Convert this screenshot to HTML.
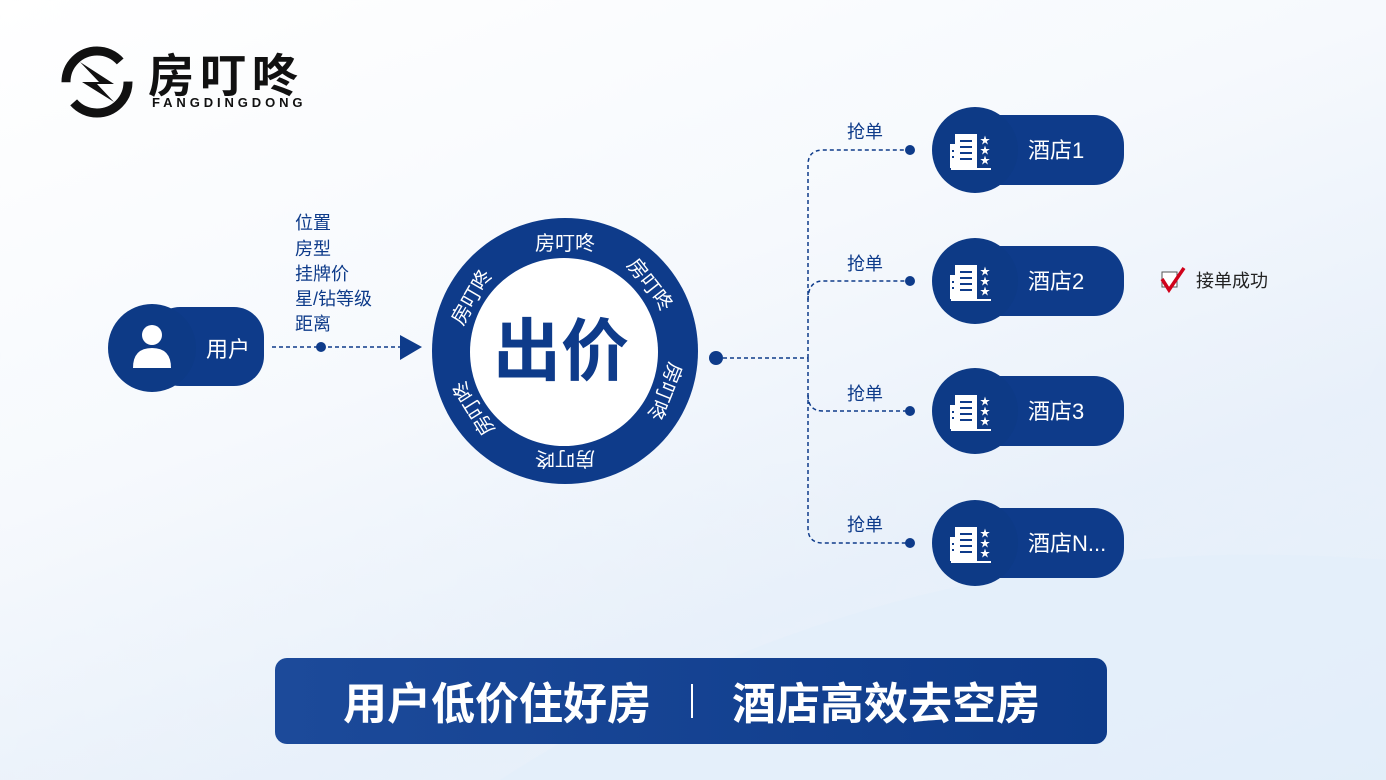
<!DOCTYPE html>
<html><head><meta charset="utf-8"><style>
html,body{margin:0;padding:0;width:1386px;height:780px;overflow:hidden}
body{background:linear-gradient(160deg,#ffffff 0%,#f6f9fd 40%,#e8f0fa 70%,#f4f8fd 100%);font-family:"Liberation Sans","Noto Sans CJK SC",sans-serif}
svg text{font-family:"Liberation Sans","Noto Sans CJK SC",sans-serif}
</style></head><body>
<svg width="1386" height="780" viewBox="0 0 1386 780" xmlns="http://www.w3.org/2000/svg">
<defs>
<linearGradient id="bg2" x1="0" y1="0" x2="1" y2="1"><stop offset="0" stop-color="#fff" stop-opacity="0"/><stop offset="1" stop-color="#d6e5f5" stop-opacity=".6"/></linearGradient>
<linearGradient id="ban" x1="0" y1="0" x2="1" y2="0"><stop offset="0" stop-color="#1c4a9a"/><stop offset="1" stop-color="#0e3b8a"/></linearGradient>
<g id="bld">
<rect x="-20" y="-16" width="22" height="34" fill="#fff"/>
<rect x="-25" y="-6" width="6" height="24" fill="#fff"/>
<rect x="-24" y="18" width="40" height="2" fill="#fff"/>
<g fill="#0e3b8a"><rect x="-15" y="-10" width="12" height="2"/><rect x="-15" y="-4" width="12" height="2"/><rect x="-15" y="2" width="12" height="2"/><rect x="-15" y="8" width="12" height="2"/><rect x="-23" y="0" width="2" height="2"/><rect x="-23" y="6" width="2" height="2"/></g>
<text x="10" y="-6" font-size="10" fill="#fff" text-anchor="middle">★</text>
<text x="10" y="4" font-size="10" fill="#fff" text-anchor="middle">★</text>
<text x="10" y="14" font-size="10" fill="#fff" text-anchor="middle">★</text>
</g>
</defs>
<path d="M0 620 Q400 430 900 470 T1386 300 L1386 780 L0 780Z" fill="url(#bg2)"/>
<path d="M500 780 Q900 520 1386 560 L1386 780Z" fill="#e3eefa" opacity=".6"/>

<!-- logo -->
<circle cx="97" cy="82" r="31" fill="none" stroke="#111" stroke-width="9" stroke-dasharray="75 22"/>
<path d="M80 62 L114 84 L97 84 L114 102 L82 82 L99 82 Z" fill="#111"/>
<text x="148" y="92" font-size="46" font-weight="bold" fill="#111" letter-spacing="6">房叮咚</text>
<text x="152" y="107" font-size="13" font-weight="bold" fill="#111" letter-spacing="3.9">FANGDINGDONG</text>

<!-- user node -->
<rect x="150" y="307" width="114" height="79" rx="30" fill="#0e3b8a"/>
<circle cx="152" cy="348" r="44" fill="#0d3a86"/>
<circle cx="152" cy="335" r="10" fill="#fff"/>
<path d="M133 368 Q133 348 152 348 Q171 348 171 368 Z" fill="#fff"/>
<text x="206" y="357" font-size="22" fill="#fff">用户</text>
<line x1="272" y1="347" x2="402" y2="347" stroke="#0e3b8a" stroke-width="1.5" stroke-dasharray="4 3"/>
<circle cx="321" cy="347" r="5" fill="#0e3b8a"/>
<path d="M400 335 L422 347 L400 360Z" fill="#0e3b8a"/>
<g font-size="18" fill="#0e3b8a"><text x="295" y="229">位置</text><text x="295" y="255">房型</text><text x="295" y="280">挂牌价</text><text x="295" y="305">星/钻等级</text><text x="295" y="330">距离</text></g>

<!-- ring -->
<circle cx="565" cy="351" r="133" fill="#0e3b8a"/>
<circle cx="564" cy="352" r="94" fill="#fff"/>
<text x="561" y="375" font-size="68" font-weight="bold" fill="#0e3b8a" text-anchor="middle">出价</text>
<g font-size="20" fill="#fff" text-anchor="middle">
<text transform="rotate(0 565 351) translate(565 250)">房叮咚</text>
<text transform="rotate(52 565 351) translate(565 250)">房叮咚</text>
<text transform="rotate(112 565 351) translate(565 250)">房叮咚</text>
<text transform="rotate(180 565 351) translate(565 250)">房叮咚</text>
<text transform="rotate(238 565 351) translate(565 250)">房叮咚</text>
<text transform="rotate(300 565 351) translate(565 250)">房叮咚</text>
</g>

<!-- connectors -->
<circle cx="716" cy="358" r="7" fill="#0e3b8a"/>
<g stroke="#0e3b8a" stroke-width="1.5" fill="none" stroke-dasharray="4 3">
<line x1="723" y1="358" x2="808" y2="358"/>
<path d="M808 358 L808 165 Q808 150 823 150 L908 150"/>
<path d="M808 300 Q808 281 823 281 L908 281"/>
<path d="M808 395 Q808 411 823 411 L908 411"/>
<path d="M808 358 L808 528 Q808 543 823 543 L908 543"/>
</g>
<g fill="#0e3b8a"><circle cx="910" cy="150" r="5"/><circle cx="910" cy="281" r="5"/><circle cx="910" cy="411" r="5"/><circle cx="910" cy="543" r="5"/></g>
<g font-size="18" fill="#0e3b8a"><text x="847" y="138">抢单</text><text x="847" y="270">抢单</text><text x="847" y="400">抢单</text><text x="847" y="531">抢单</text></g>

<!-- hotels -->
<g>
<rect x="960" y="115" width="164" height="70" rx="30" fill="#0e3b8a"/><circle cx="975" cy="150" r="43" fill="#0d3a86"/><use href="#bld" x="975" y="150"/><text x="1028" y="158" font-size="22" fill="#fff">酒店1</text>
<rect x="960" y="246" width="164" height="70" rx="30" fill="#0e3b8a"/><circle cx="975" cy="281" r="43" fill="#0d3a86"/><use href="#bld" x="975" y="281"/><text x="1028" y="289" font-size="22" fill="#fff">酒店2</text>
<rect x="960" y="376" width="164" height="70" rx="30" fill="#0e3b8a"/><circle cx="975" cy="411" r="43" fill="#0d3a86"/><use href="#bld" x="975" y="411"/><text x="1028" y="419" font-size="22" fill="#fff">酒店3</text>
<rect x="960" y="508" width="164" height="70" rx="30" fill="#0e3b8a"/><circle cx="975" cy="543" r="43" fill="#0d3a86"/><use href="#bld" x="975" y="543"/><text x="1028" y="551" font-size="22" fill="#fff">酒店N...</text>
</g>
<rect x="1162" y="272" width="15" height="15" fill="#fff" stroke="#555" stroke-width="1"/>
<path d="M1162 279 L1169 290 L1184 268" stroke="#d0021b" stroke-width="3.5" fill="none"/>
<text x="1196" y="287" font-size="18" fill="#222">接单成功</text>

<!-- banner -->
<rect x="275" y="658" width="832" height="86" rx="12" fill="url(#ban)"/>
<text x="497" y="719" font-size="44" font-weight="bold" fill="#fff" text-anchor="middle">用户低价住好房</text>
<line x1="692" y1="684" x2="692" y2="718" stroke="#fff" stroke-width="2"/>
<text x="886" y="719" font-size="44" font-weight="bold" fill="#fff" text-anchor="middle">酒店高效去空房</text>
</svg>
</body></html>
